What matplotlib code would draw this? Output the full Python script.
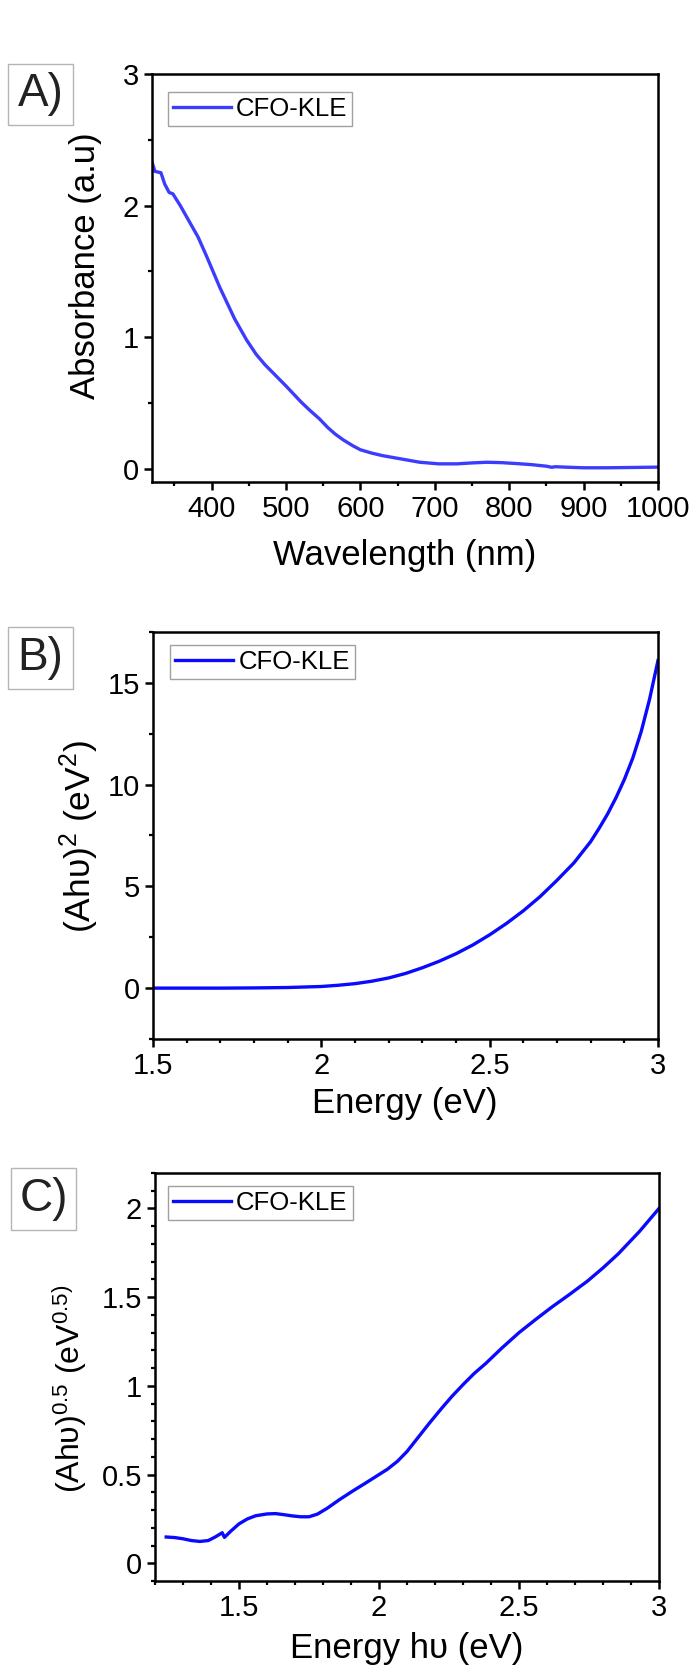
import matplotlib
matplotlib.use('Agg')
import matplotlib.pyplot as plt
from matplotlib.ticker import MultipleLocator, FuncFormatter
from matplotlib.patches import Rectangle

plt.rcParams['font.family'] = ['Liberation Sans', 'DejaVu Sans']
plt.rcParams['mathtext.fontset'] = 'custom'
plt.rcParams['mathtext.rm'] = 'Liberation Sans'
plt.rcParams['mathtext.it'] = 'Liberation Sans:italic'
plt.rcParams['mathtext.bf'] = 'Liberation Sans:bold'

# ---------------- data ----------------
series_label = "CFO-KLE"

wavelength = [320, 324, 332, 337, 343, 348, 358, 366, 374, 382, 393, 402, 411, 421, 431, 440,
              447, 460, 472, 486, 500, 520, 532, 545, 556, 566, 577, 590, 600, 615, 630, 650,
              665, 680, 705, 730, 750, 770, 790, 810, 830, 850, 857, 862, 880, 900, 930, 960, 1000]
absorbance = [2.33, 2.26, 2.25, 2.165, 2.10, 2.09, 2.00, 1.92, 1.84, 1.76, 1.62, 1.50, 1.38, 1.26, 1.14, 1.05,
              0.98, 0.87, 0.79, 0.71, 0.63, 0.51, 0.445, 0.38, 0.315, 0.265, 0.22, 0.175, 0.145, 0.12, 0.10, 0.08,
              0.065, 0.05, 0.038, 0.038, 0.045, 0.05, 0.047, 0.04, 0.032, 0.02, 0.012, 0.016, 0.012, 0.008, 0.008,
              0.01, 0.013]

energy_b = [1.5, 1.6, 1.7, 1.8, 1.9, 2.0, 2.05, 2.1, 2.15, 2.2, 2.25, 2.3, 2.35, 2.4, 2.45,
            2.5, 2.55, 2.6, 2.65, 2.7, 2.75, 2.8, 2.825, 2.85, 2.875, 2.9, 2.925, 2.95, 2.975, 3.0]
tauc_direct = [0.0, 0.0, 0.0, 0.01, 0.03, 0.08, 0.14, 0.22, 0.34, 0.5, 0.72, 1.0, 1.32, 1.69, 2.12,
               2.62, 3.18, 3.8, 4.5, 5.3, 6.15, 7.2, 7.85, 8.55, 9.35, 10.25, 11.3, 12.6, 14.2, 16.1]

energy_c = [1.24, 1.27, 1.30, 1.33, 1.36, 1.39, 1.415, 1.44, 1.448, 1.47, 1.5, 1.53, 1.56, 1.6, 1.63,
            1.66, 1.69, 1.72, 1.75, 1.78, 1.815, 1.86, 1.909, 1.95, 2.0, 2.03, 2.066, 2.1, 2.145, 2.18,
            2.224, 2.26, 2.302, 2.34, 2.381, 2.44, 2.5, 2.56, 2.618, 2.68, 2.744, 2.8, 2.855, 2.93, 3.0]
tauc_indirect = [0.148, 0.145, 0.138, 0.128, 0.123, 0.128, 0.148, 0.172, 0.146, 0.18, 0.222, 0.25, 0.268,
                 0.278, 0.28, 0.274, 0.267, 0.262, 0.262, 0.277, 0.31, 0.36, 0.41, 0.45, 0.50, 0.53, 0.575,
                 0.63, 0.72, 0.79, 0.874, 0.94, 1.01, 1.07, 1.126, 1.215, 1.30, 1.375, 1.445, 1.515, 1.59,
                 1.665, 1.745, 1.87, 2.0]

panel_letters = ["A)", "B)", "C)"]

# ---------------- figure ----------------
W, H = 694, 1667
fig = plt.figure(figsize=(W / 100, H / 100), dpi=100)


def ax_px(l, t, r, b):
    return fig.add_axes([l / W, 1 - b / H, (r - l) / W, (b - t) / H])


fmt = FuncFormatter(lambda v, p: ('%g' % round(v, 6)))


def style(ax, xmaj, xmin, ymaj, ymin):
    for s in ax.spines.values():
        s.set_linewidth(1.8)
    ax.xaxis.set_major_locator(MultipleLocator(xmaj))
    ax.xaxis.set_minor_locator(MultipleLocator(xmin))
    ax.yaxis.set_major_locator(MultipleLocator(ymaj))
    ax.yaxis.set_minor_locator(MultipleLocator(ymin))
    ax.xaxis.set_major_formatter(fmt)
    ax.yaxis.set_major_formatter(fmt)
    ax.tick_params(which='major', direction='out', length=5.8, width=1.8,
                   labelsize=21, pad=3.5, top=False, right=False)
    ax.tick_params(which='minor', direction='out', length=3.0, width=1.6,
                   top=False, right=False)


def legend(ax, x0, y1):
    lg = ax.legend(loc='upper left', bbox_to_anchor=(x0, y1), borderaxespad=0,
                   fontsize=18.5, frameon=True, fancybox=False, framealpha=1,
                   edgecolor='#a0a0a0', borderpad=0.2, handlelength=2.25,
                   handletextpad=0.2)
    lg.get_frame().set_linewidth(1.0)


def panel_box(letter, l, t, r, b):
    fig.patches.append(Rectangle((l / W, 1 - b / H), (r - l) / W, (b - t) / H,
                                 transform=fig.transFigure, facecolor='white',
                                 edgecolor='#b5b5b5', linewidth=1.0))
    fig.text((l + r) / 2 / W, 1 - (t + b) / 2 / H, letter, ha='center', va='center',
             fontsize=33, color='#222222')


LW = 2.4

# Panel A
axA = ax_px(152, 74, 658, 482)
axA.plot(wavelength, absorbance, color='#3c3cff', lw=LW, label=series_label)
axA.set_xlim(320, 1000)
axA.set_ylim(-0.1, 3)
style(axA, 100, 50, 1, 0.5)
legend(axA, 0.031, 0.956)
fig.text(85 / W, 1 - 266 / H, "Absorbance (a.u)", rotation=90, ha='center', va='center', fontsize=25)
fig.text(405 / W, 1 - 556 / H, "Wavelength (nm)", ha='center', va='center', fontsize=25)
panel_box(panel_letters[0], 8, 64, 73, 125)

# Panel B
axB = ax_px(153, 632, 658, 1039)
axB.plot(energy_b, tauc_direct, color='#0a0aff', lw=LW, label=series_label)
axB.set_xlim(1.5, 3)
axB.set_ylim(-2.5, 17.5)
style(axB, 0.5, 0.1, 5, 2.5)
legend(axB, 0.034, 0.968)
fig.text(79 / W, 1 - 837 / H, "(Ahυ)$^{2}$ (eV$^{2}$)", rotation=90, ha='center', va='center', fontsize=25.5)
fig.text(405 / W, 1 - 1103 / H, "Energy (eV)", ha='center', va='center', fontsize=25)
panel_box(panel_letters[1], 8, 627, 73, 689)

# Panel C
axC = ax_px(155, 1173, 659, 1581)
axC.plot(energy_c, tauc_indirect, color='#0a0aff', lw=LW, label=series_label)
axC.set_xlim(1.2, 3)
axC.set_ylim(-0.1, 2.2)
style(axC, 0.5, 0.1, 0.5, 0.1)
legend(axC, 0.026, 0.968)
fig.text(70 / W, 1 - 1389 / H, "(Ahυ)$^{0.5}$ (eV$^{0.5)}$", rotation=90, ha='center', va='center', fontsize=23)
fig.text(407 / W, 1 - 1648 / H, "Energy hυ (eV)", ha='center', va='center', fontsize=25)
panel_box(panel_letters[2], 11, 1168, 76, 1230)

fig.savefig('out.png', dpi=100)
